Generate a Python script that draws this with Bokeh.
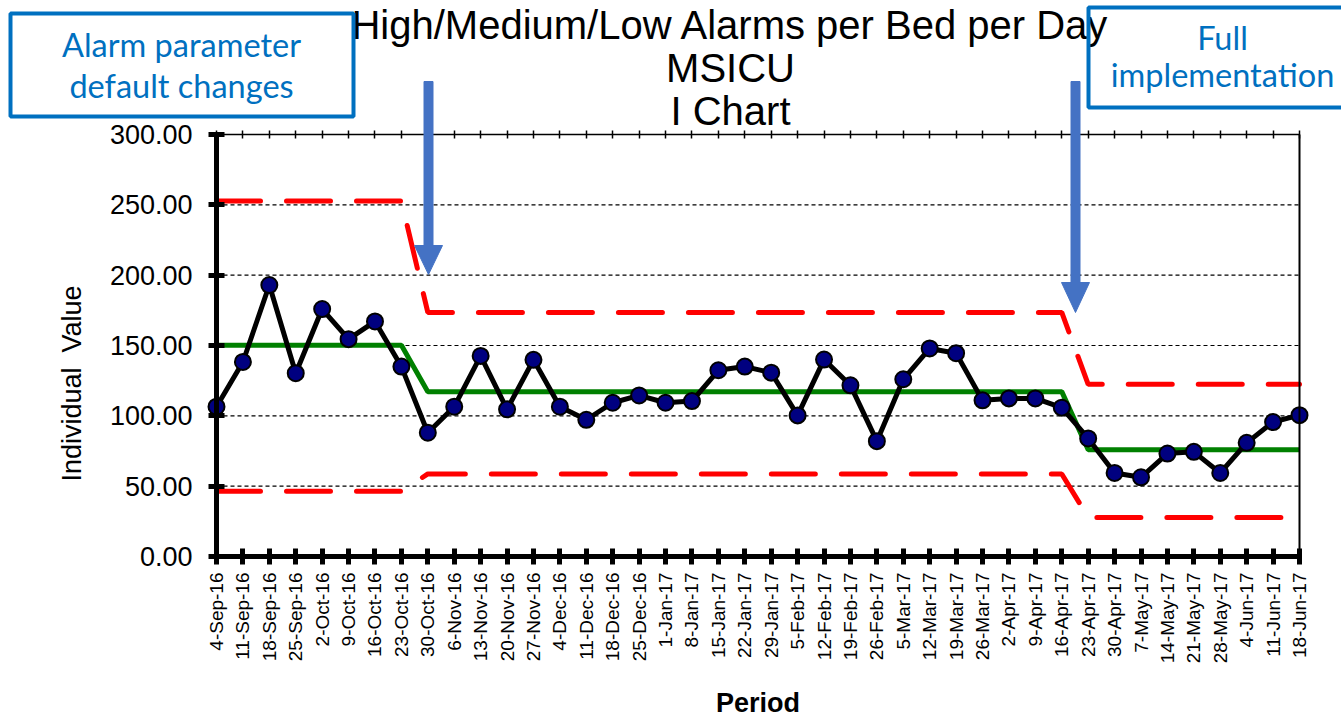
import math

from bokeh.plotting import figure
from bokeh.models import (Range1d, FixedTicker, LinearAxis, Label,
                          PolyAnnotation, NumeralTickFormatter)
from bokeh.embed import file_html
from bokeh.resources import INLINE

# Weekly periods
periods = ["4-Sep-16", "11-Sep-16", "18-Sep-16", "25-Sep-16", "2-Oct-16", "9-Oct-16",
           "16-Oct-16", "23-Oct-16", "30-Oct-16", "6-Nov-16", "13-Nov-16", "20-Nov-16",
           "27-Nov-16", "4-Dec-16", "11-Dec-16", "18-Dec-16", "25-Dec-16", "1-Jan-17",
           "8-Jan-17", "15-Jan-17", "22-Jan-17", "29-Jan-17", "5-Feb-17", "12-Feb-17",
           "19-Feb-17", "26-Feb-17", "5-Mar-17", "12-Mar-17", "19-Mar-17", "26-Mar-17",
           "2-Apr-17", "9-Apr-17", "16-Apr-17", "23-Apr-17", "30-Apr-17", "7-May-17",
           "14-May-17", "21-May-17", "28-May-17", "4-Jun-17", "11-Jun-17", "18-Jun-17"]

# High/Medium/Low alarms per bed per day
alarms = [106.5, 138.3, 193.0, 130.3, 175.9, 154.5, 167.1, 135.0, 88.0, 106.5,
          142.6, 104.6, 139.8, 106.5, 97.2, 109.3, 114.5, 109.3, 110.5, 132.4,
          135.0, 130.7, 100.3, 140.0, 121.7, 82.0, 126.0, 147.9, 144.5, 111.0,
          112.4, 112.4, 105.8, 83.9, 59.4, 56.3, 73.2, 74.4, 59.4, 80.8,
          95.6, 100.5]

# Phases of the I chart (index of first period in each phase) and their limits
phase_start = [0, 8, 33]
centre_line = [150.1, 117.2, 75.9]
upper_limit = [252.7, 173.5, 122.4]
lower_limit = [46.4, 58.7, 27.8]

y_ticks = [0, 50, 100, 150, 200, 250, 300]

FONT = "Liberation Sans"
NOTE_FONT = "Lato"
NOTE_BLUE = "#0070C0"
ARROW_BLUE = "#4472C4"

W, H = 1341, 720
# Pixel placement of the chart area inside the canvas
AREA_LEFT, AREA_RIGHT, AREA_TOP, AREA_BOTTOM = 216, 1299, 134, 556

n = len(periods)
x_last = n - 1
y_top = y_ticks[-1]
x_per_px = x_last / (AREA_RIGHT - AREA_LEFT)
y_per_px = y_top / (AREA_BOTTOM - AREA_TOP)
x_range = Range1d(-AREA_LEFT * x_per_px, x_last + (W - AREA_RIGHT) * x_per_px)
y_range = Range1d(-(H - AREA_BOTTOM) * y_per_px, y_top + AREA_TOP * y_per_px)


def step_path(levels):
    """Stepped limit path: flat over each phase, sloping into the next."""
    ends = phase_start[1:] + [n]
    xs, ys = [], []
    for s, e, v in zip(phase_start, ends, levels):
        xs += [s, e - 1]
        ys += [v, v]
    return xs, ys


def sy(py):
    return H - py


x = list(range(n))

p = figure(width=W, height=H, output_backend="svg", toolbar_location=None,
           x_range=x_range, y_range=y_range, min_border=0)
p.background_fill_color = "white"
p.border_fill_color = "white"
p.outline_line_color = None
p.grid.visible = False

# Bottom axis
xa = p.xaxis[0]
xa.fixed_location = 0
xa.bounds = (0, x_last)
xa.ticker = FixedTicker(ticks=x)
xa.major_label_overrides = {i: lab for i, lab in enumerate(periods)}
xa.major_label_orientation = math.pi / 2
xa.major_label_text_font = FONT
xa.major_label_text_font_size = "19px"
xa.major_label_text_color = "black"
xa.major_label_standoff = 8
xa.axis_line_width = 5
xa.axis_line_color = "black"
xa.major_tick_line_width = 5
xa.major_tick_line_color = "black"
xa.major_tick_in = 8
xa.major_tick_out = 8
xa.minor_tick_line_color = None
xa.axis_label = "Period"
xa.axis_label_text_font = FONT
xa.axis_label_text_font_style = "bold"
xa.axis_label_text_font_size = "27px"
xa.axis_label_text_color = "black"
xa.axis_label_standoff = 22

# Left axis
ya = p.yaxis[0]
ya.fixed_location = 0
ya.bounds = (0, y_top)
ya.ticker = FixedTicker(ticks=y_ticks)
ya.formatter = NumeralTickFormatter(format="0.00")
ya.major_label_text_font = FONT
ya.major_label_text_font_size = "27px"
ya.major_label_text_color = "black"
ya.major_label_standoff = 16
ya.axis_line_width = 5
ya.axis_line_color = "black"
ya.major_tick_line_width = 5
ya.major_tick_line_color = "black"
ya.major_tick_in = 8
ya.major_tick_out = 8
ya.minor_tick_line_color = None

# Y axis title, set a little below the middle of the axis
p.add_layout(Label(x=71, y=sy(383), x_units="screen", y_units="screen",
                   text="Individual \u00a0Value", angle=math.pi / 2,
                   text_align="center", text_baseline="middle",
                   text_font=FONT, text_font_size="27px", text_color="black"))

# Thin top and right borders of the chart area
top_axis = LinearAxis(fixed_location=y_top, bounds=(0, x_last),
                      ticker=FixedTicker(ticks=x),
                      major_label_overrides={i: "" for i in x},
                      axis_line_width=1.5, major_tick_line_width=1.5,
                      major_tick_in=4, major_tick_out=4,
                      minor_tick_line_color=None)
p.add_layout(top_axis, "above")
right_axis = LinearAxis(fixed_location=x_last, bounds=(0, y_top),
                        ticker=FixedTicker(ticks=[]),
                        axis_line_width=2, major_tick_line_color=None,
                        minor_tick_line_color=None)
p.add_layout(right_axis, "right")

# Dashed horizontal grid between the axes
inner = y_ticks[1:-1]
p.segment(x0=[0] * len(inner), y0=inner, x1=[x_last] * len(inner), y1=inner,
          line_color="black", line_width=1.2, line_dash="4 3")

# Control limits and centre line
for levels in (upper_limit, lower_limit):
    lx, ly = step_path(levels)
    p.line(lx, ly, line_color="#FF0000", line_width=5, line_dash="44 26",
           line_cap="round")
cx, cy = step_path(centre_line)
p.line(cx, cy, line_color="#008000", line_width=5)

# Individual values
p.line(x, alarms, line_color="black", line_width=5, line_join="round")
p.scatter(x, alarms, size=16, fill_color="#000080", line_color="black",
          line_width=2)

# Title
for text, base in (("High/Medium/Low Alarms per Bed per Day", 24),
                   ("MSICU", 67), ("I Chart", 110)):
    p.add_layout(Label(x=730, y=sy(base), x_units="screen", y_units="screen",
                       text=text, text_align="center", text_baseline="alphabetic",
                       text_font=FONT, text_font_size="40px", text_color="black"))

# Note boxes (the right one runs off the edge of the page)
for left, top, right, bottom in ((10, 13, 353, 116), (1088, 7, 1360, 107)):
    p.add_layout(PolyAnnotation(xs=[left, right, right, left],
                                ys=[sy(top), sy(top), sy(bottom), sy(bottom)],
                                xs_units="screen", ys_units="screen",
                                fill_alpha=0, line_color=NOTE_BLUE,
                                line_alpha=1, line_width=4))

for text, cxp, base in (("Alarm parameter", 181, 44), ("default changes", 181, 85),
                        ("Full", 1222, 37), ("implementation", 1222, 74)):
    p.add_layout(Label(x=cxp, y=sy(base), x_units="screen", y_units="screen",
                       text=text, text_align="center", text_baseline="alphabetic",
                       text_font=NOTE_FONT, text_font_size="32.5px",
                       text_color=NOTE_BLUE))

# Arrows marking the interventions
for cxp, top, head_top, tip in ((428, 81, 245, 274), (1075, 81, 282, 312)):
    shaft, head = 4.5, 14
    xs = [cxp - shaft, cxp + shaft, cxp + shaft, cxp + head, cxp, cxp - head,
          cxp - shaft]
    ys = [top, top, head_top, head_top, tip, head_top, head_top]
    p.add_layout(PolyAnnotation(xs=xs, ys=[sy(v) for v in ys],
                                xs_units="screen", ys_units="screen",
                                fill_color=ARROW_BLUE, fill_alpha=1,
                                line_color=ARROW_BLUE, line_alpha=1,
                                line_width=1))

open("out.html", "w").write(file_html(p, INLINE))
